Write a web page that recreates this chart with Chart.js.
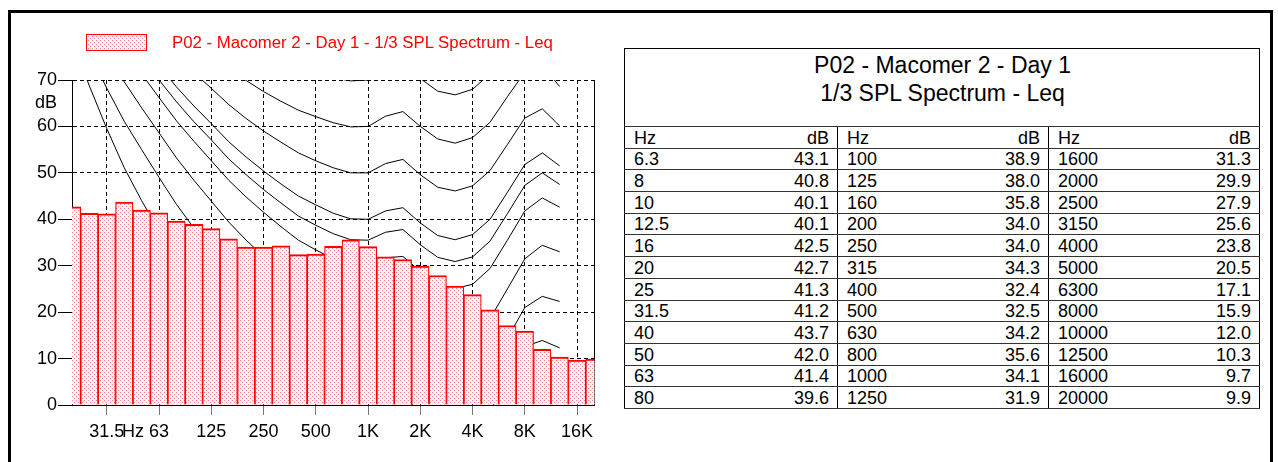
<!DOCTYPE html>
<html>
<head>
<meta charset="utf-8">
<script src="https://cdn.jsdelivr.net/npm/chart.js@4.4.1/dist/chart.umd.min.js"></script>
<style>
    body {
        margin: 0;
        width: 1278px;
        height: 462px;
        overflow: hidden;
        background: #fff;
        position: relative;
        font-family: "Liberation Sans", Arial, sans-serif;
    }
    .frame {
        position: absolute;
        left: 8px;
        top: 10px;
        width: 1259px;
        height: 480px;
        border: 3px solid #000;
    }
    #chartBox {
        position: absolute;
        left: 0;
        top: 0;
    }
    .legend {
        position: absolute;
        left: 86px;
        top: 34px;
        height: 17px;
        display: flex;
        align-items: center;
        color: #f00;
        font-size: 16.8px;
        white-space: nowrap;
    }
    .legend canvas {
        margin-right: 25px;
    }
    #spl {
        position: absolute;
        left: 624px;
        top: 48px;
        width: 636px;
        border-collapse: collapse;
        table-layout: fixed;
        border: 1px solid #000;
        font-size: 18px;
        color: #000;
    }
    #spl td {
        height: 20.7px;
        padding: 0 8px 0 9px;
        line-height: 20px;
        border-bottom: 1px solid #333;
        white-space: nowrap;
        vertical-align: bottom;
    }
    #spl td.db {
        text-align: right;
    }
    #spl td.grp {
        border-left: 1px solid #000;
    }
    #spl td.title {
        height: 75px;
        text-align: center;
        vertical-align: top;
        font-size: 23px;
        line-height: 28px;
        padding-top: 2px;
    }
</style>
</head>
<body>
<div class="frame"></div>
<canvas id="chartBox" width="620" height="462"></canvas>
<div class="legend"><canvas id="legendBox" width="61" height="17"></canvas><span id="legendText"></span></div>
<table id="spl">
    <colgroup>
        <col style="width:100px"><col style="width:113px">
        <col style="width:100px"><col style="width:111px">
        <col style="width:100px"><col style="width:111px">
    </colgroup>
    <tbody id="splBody"></tbody>
</table>

<script>
// 1/3 octave bands and Leq values (table)
const bands = ['6.3', '8', '10', '12.5', '16', '20', '25', '31.5', '40', '50', '63', '80',
    '100', '125', '160', '200', '250', '315', '400', '500', '630', '800', '1000', '1250',
    '1600', '2000', '2500', '3150', '4000', '5000', '6300', '8000', '10000', '12500', '16000', '20000'];
const leq = [43.1, 40.8, 40.1, 40.1, 42.5, 42.7, 41.3, 41.2, 43.7, 42.0, 41.4, 39.6,
    38.9, 38.0, 35.8, 34.0, 34.0, 34.3, 32.4, 32.5, 34.2, 35.6, 34.1, 31.9,
    31.3, 29.9, 27.9, 25.6, 23.8, 20.5, 17.1, 15.9, 12.0, 10.3, 9.7, 9.9];

// the chart runs from 20 Hz to 20 kHz
const chartFirstBand = '20';

// equal loudness contours, 20 Hz .. 12.5 kHz
const contourThreshold = [78.5, 68.7, 59.5, 51.1, 44.0, 37.5, 31.5, 26.5, 22.1, 17.9, 14.4, 11.4, 8.6, 6.2, 4.4, 3.0, 2.2, 2.4, 3.5, 1.7, -1.3, -4.2, -6.0, -5.4, -1.5, 6.0, 12.6, 13.9, 12.3];
const contour10 = [83.8, 75.8, 68.2, 61.1, 55.0, 49.0, 43.2, 38.1, 33.5, 28.8, 24.9, 21.3, 18.1, 15.1, 13.0, 11.2, 10.0, 10.0, 11.3, 10.4, 7.3, 4.5, 3.0, 3.8, 7.5, 14.4, 21.0, 23.4, 22.3];
const contour20 = [89.6, 82.7, 76.0, 69.6, 64.0, 58.6, 53.2, 48.4, 43.9, 39.4, 35.5, 32.0, 28.7, 25.7, 23.4, 21.5, 20.1, 20.0, 21.5, 21.4, 18.2, 15.4, 14.3, 15.1, 18.6, 25.0, 31.5, 34.4, 33.0];
const contour30 = [94.9, 88.5, 82.4, 76.5, 71.3, 66.2, 61.2, 56.8, 52.6, 48.4, 44.8, 41.5, 38.4, 35.5, 33.4, 31.5, 30.1, 30.0, 31.7, 32.0, 28.8, 26.0, 25.1, 26.0, 29.4, 35.5, 41.8, 44.6, 42.6];
const contour35 = [97.6, 91.5, 85.6, 79.9, 74.9, 70.0, 65.3, 61.0, 57.1, 53.0, 49.6, 46.4, 43.5, 40.7, 38.7, 36.9, 35.6, 35.5, 37.2, 37.8, 34.5, 31.8, 30.9, 31.9, 35.3, 41.2, 47.3, 50.0, 47.5];
const contour40 = [99.9, 93.9, 88.2, 82.6, 77.8, 73.1, 68.5, 64.4, 60.6, 56.7, 53.4, 50.4, 47.6, 45.0, 43.1, 41.3, 40.1, 40.0, 41.8, 42.5, 39.2, 36.5, 35.6, 36.7, 40.0, 45.8, 51.8, 54.3, 51.5];
const contour50 = [104.7, 99.1, 93.7, 88.5, 84.0, 79.6, 75.4, 71.6, 68.2, 64.7, 61.7, 59.0, 56.6, 54.3, 52.6, 51.1, 50.0, 50.0, 52.0, 52.9, 49.6, 46.9, 46.1, 47.2, 50.5, 56.1, 61.8, 63.8, 60.1];
const contour60 = [109.5, 104.2, 99.1, 94.2, 90.0, 85.9, 82.1, 78.7, 75.6, 72.5, 69.9, 67.5, 65.4, 63.5, 62.1, 60.8, 59.9, 60.0, 62.2, 63.2, 60.0, 57.3, 56.4, 57.6, 60.9, 66.4, 71.7, 73.2, 68.6];
const contour70 = [114.3, 109.3, 104.4, 99.8, 95.9, 92.2, 88.6, 85.6, 82.9, 80.2, 77.9, 75.9, 74.2, 72.6, 71.5, 70.5, 69.8, 70.0, 72.3, 73.5, 70.3, 67.6, 66.8, 68.0, 71.3, 76.6, 81.5, 82.5, 77.0];

// axis ticks (null band = halfway between neighbours)
const xTickBands = ['31.5', null, '63', '125', '250', '500', '1000', '2000', '4000', '8000', '16000'];
const xTickLabels = ['31.5', 'Hz', '63', '125', '250', '500', '1K', '2K', '4K', '8K', '16K'];
const yTickValues = [0, 10, 20, 30, 40, 50, 60, 65, 70];
const yTickLabels = ['0', '10', '20', '30', '40', '50', '60', 'dB', '70'];

const seriesTitle = 'P02 - Macomer 2 - Day 1 - 1/3 SPL Spectrum - Leq';
const tableTitle = ['P02 - Macomer 2 - Day 1', '1/3 SPL Spectrum - Leq'];

Chart.defaults.font.family = '"Liberation Sans", Arial, sans-serif';

// dotted red fill like the original
function dotPattern(ctx) {
    const tile = document.createElement('canvas');
    tile.width = 4;
    tile.height = 4;
    const t = tile.getContext('2d');
    t.fillStyle = '#fff4f4';
    t.fillRect(0, 0, 4, 4);
    t.fillStyle = '#ff8080';
    t.fillRect(0, 0, 1, 1);
    t.fillRect(2, 2, 1, 1);
    return ctx.createPattern(tile, 'repeat');
}

const start = bands.indexOf(chartFirstBand);
const chartBands = bands.slice(start);
const lastIndex = chartBands.length - 1;

const xTickPos = xTickBands.map((b, i) => {
    if (b !== null) return chartBands.indexOf(b);
    return (chartBands.indexOf(xTickBands[i - 1]) + chartBands.indexOf(xTickBands[i + 1])) / 2;
});

const barPoints = chartBands.map((b, i) => ({ x: i, y: leq[start + i] }));
const toPoints = arr => arr.map((v, i) => ({ x: i, y: v }));

const contours = [contourThreshold, contour10, contour20, contour30, contour35,
    contour40, contour50, contour60, contour70];

const ctx = document.getElementById('chartBox').getContext('2d');
const fill = dotPattern(ctx);

const lineSets = contours.map(c => ({
    type: 'line',
    data: toPoints(c),
    borderColor: '#000',
    borderWidth: 1,
    pointRadius: 0,
    tension: 0,
    fill: false,
    clip: 0,
    order: 2
}));

new Chart(ctx, {
    type: 'bar',
    data: {
        datasets: [{
            type: 'bar',
            label: seriesTitle,
            data: barPoints,
            backgroundColor: fill,
            borderColor: '#ff0000',
            borderWidth: { top: 2, left: 1.2, right: 1.2, bottom: 0 },
            barPercentage: 1,
            categoryPercentage: 1,
            clip: 0,
            order: 1
        }, ...lineSets]
    },
    options: {
        responsive: false,
        devicePixelRatio: 1,
        animation: false,
        layout: { padding: { left: 10, top: 80, right: 25.5, bottom: 0 } },
        plugins: {
            legend: { display: false },
            tooltip: { enabled: false }
        },
        scales: {
            x: {
                type: 'linear',
                min: 0,
                max: lastIndex,
                offset: false,
                afterBuildTicks: s => { s.ticks = xTickPos.map(v => ({ value: v })); },
                afterFit: s => { s.height = 57; },
                ticks: {
                    autoSkip: false,
                    maxRotation: 0,
                    color: '#000',
                    font: { size: 18 },
                    padding: 6,
                    callback: (v, i) => xTickLabels[i]
                },
                grid: {
                    offset: false,
                    color: c => xTickLabels[c.index] === 'Hz' ? 'rgba(0,0,0,0)' : '#000',
                    tickColor: c => xTickLabels[c.index] === 'Hz' ? 'rgba(0,0,0,0)' : '#777',
                    tickLength: 10
                },
                border: { color: '#000', dash: [4, 3] }
            },
            y: {
                min: 0,
                max: 70,
                afterBuildTicks: s => { s.ticks = yTickValues.map(v => ({ value: v })); },
                afterFit: s => { s.width = 62; },
                ticks: {
                    color: '#000',
                    font: { size: 18 },
                    padding: 1,
                    callback: (v, i) => yTickLabels[i]
                },
                grid: {
                    color: c => yTickLabels[c.index] === 'dB' ? 'rgba(0,0,0,0)' : '#000',
                    tickColor: c => yTickLabels[c.index] === 'dB' ? 'rgba(0,0,0,0)' : '#000',
                    tickLength: 14
                },
                border: { color: '#000', dash: [4, 3] }
            },
            yRight: {
                position: 'right',
                min: 0,
                max: 70,
                grid: { display: false },
                ticks: { display: false },
                border: { display: true, color: '#000' },
                afterFit: s => { s.width = 0; }
            }
        }
    }
});

// legend
const lg = document.getElementById('legendBox').getContext('2d');
lg.fillStyle = dotPattern(lg);
lg.fillRect(0, 0, 61, 17);
lg.strokeStyle = '#ff0000';
lg.lineWidth = 1;
lg.strokeRect(0.5, 0.5, 60, 16);
document.getElementById('legendText').textContent = seriesTitle;

// table
const body = document.getElementById('splBody');
const rowsPerGroup = Math.ceil(bands.length / 3);
let html = `<tr><td colspan="6" class="title">${tableTitle.join('<br>')}</td></tr>`;
html += '<tr>' + [0, 1, 2].map(g => `<td class="${g ? 'grp' : ''}">Hz</td><td class="db">dB</td>`).join('') + '</tr>';
for (let r = 0; r < rowsPerGroup; r++) {
    html += '<tr>';
    for (let g = 0; g < 3; g++) {
        const k = g * rowsPerGroup + r;
        html += `<td class="${g ? 'grp' : ''}">${bands[k]}</td><td class="db">${leq[k].toFixed(1)}</td>`;
    }
    html += '</tr>';
}
body.innerHTML = html;
</script>
</body>
</html>
